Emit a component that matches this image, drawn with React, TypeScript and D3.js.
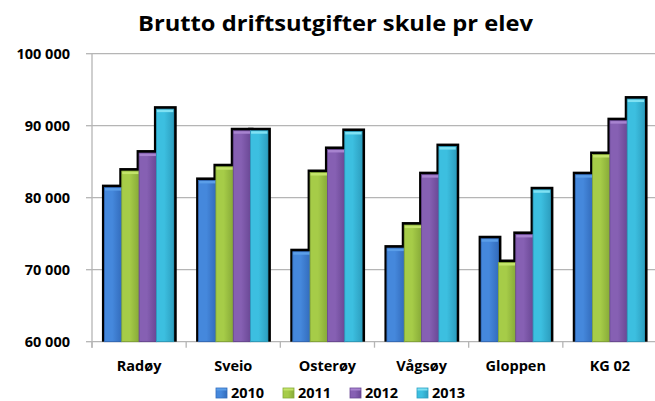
import React from "react";
import * as d3 from "d3";

const categories = ["Radøy", "Sveio", "Osterøy", "Vågsøy", "Gloppen", "KG 02"];
const years = ["2010", "2011", "2012", "2013"];
const values2010 = [81400, 82400, 72500, 73000, 74300, 83200];
const values2011 = [83700, 84300, 83500, 76200, 71000, 86000];
const values2012 = [86200, 89300, 86700, 83200, 74900, 90700];
const values2013 = [92300, 89300, 89200, 87100, 81100, 93700];
const yTicks = [60000, 70000, 80000, 90000, 100000];
const seriesValues = [values2010, values2011, values2012, values2013];

const colors = [
  { top: "#5b9ee8", light: "#4588dc", dark: "#336cbc" },
  { top: "#c3e36a", light: "#a6cc48", dark: "#87aa38" },
  { top: "#a783cf", light: "#8660b3", dark: "#6a4895" },
  { top: "#7fe1f3", light: "#3cbfe0", dark: "#2d9fc0" },
];

const W = 655;
const H = 401;
const FONT = "'Open Sans', Lato, sans-serif";

export default function App() {
  const left = 92;
  const right = 657;
  const y = d3.scaleLinear().domain([60000, 100000]).range([341.7, 53.7]);
  const x0 = d3
    .scaleBand<string>()
    .domain(categories)
    .range([left, right])
    .paddingInner(0.264)
    .paddingOuter(0.132);
  const x1 = d3.scaleBand<string>().domain(years).range([0, x0.bandwidth()]);
  const fmt = (v: number) => d3.format(",")(v).replace(/,/g, " ");
  const step = x0.step();
  const boundaries = d3.range(categories.length + 1).map((i) => left + i * step);

  const bars: { key: string; x: number; y: number; w: number; h: number; s: number }[] = [];
  categories.forEach((c, ci) => {
    years.forEach((yr, si) => {
      const v = seriesValues[si][ci];
      const bx = (x0(c) as number) + (x1(yr) as number);
      const by = y(v);
      bars.push({ key: c + yr, x: bx, y: by, w: x1.bandwidth(), h: y(60000) - by, s: si });
    });
  });

  return (
    <svg
      width={W}
      height={H}
      style={{ position: "absolute", left: 0, top: 0, background: "#fff" }}
      fontFamily={FONT}
    >
      <defs>
        {colors.map((c, i) => (
          <linearGradient key={i} id={"g" + i} x1="0" y1="0" x2="1" y2="0">
            <stop offset="0" stopColor={c.light} />
            <stop offset="0.45" stopColor={c.light} />
            <stop offset="1" stopColor={c.dark} />
          </linearGradient>
        ))}
      </defs>
      <rect x={0} y={0} width={W} height={H} fill="#fff" />
      <text
        x={138}
        y={31}
        fontSize={21}
        fontWeight="bold"
        fill="#000"
        textLength={395}
        lengthAdjust="spacingAndGlyphs"
      >
        Brutto driftsutgifter skule pr elev
      </text>
      {yTicks.map((t) => (
        <g key={t}>
          <line x1={left} x2={W} y1={y(t)} y2={y(t)} stroke="#b5b5b5" strokeWidth={1.3} />
          <line x1={86} x2={left} y1={y(t)} y2={y(t)} stroke="#b5b5b5" strokeWidth={1.3} />
          <text
            x={70}
            y={y(t)}
            dy="0.36em"
            textAnchor="end"
            fontSize={14.5}
            fontWeight="bold"
            fill="#000"
          >
            {fmt(t)}
          </text>
        </g>
      ))}
      <line x1={left} x2={left} y1={y(100000)} y2={y(60000) + 6} stroke="#b5b5b5" strokeWidth={1.3} />
      {boundaries.map((bx, i) => (
        <line key={i} x1={bx} x2={bx} y1={y(60000)} y2={y(60000) + 6} stroke="#b5b5b5" strokeWidth={1.3} />
      ))}
      {bars.map((b) => (
        <rect key={"s" + b.key} x={b.x - 2.5} y={b.y - 3} width={b.w + 5.5} height={b.h + 3} fill="#000" />
      ))}
      {bars.map((b) => (
        <g key={b.key}>
          <rect
            x={b.x}
            y={b.y}
            width={b.w}
            height={b.h}
            fill={`url(#g${b.s})`}
            stroke={colors[b.s].dark}
            strokeWidth={0.8}
          />
          <rect x={b.x + 0.5} y={b.y + 0.5} width={b.w - 1} height={2.5} fill={colors[b.s].top} />
        </g>
      ))}
      {categories.map((c) => (
        <text
          key={c}
          x={(x0(c) as number) + x0.bandwidth() / 2}
          y={371}
          textAnchor="middle"
          fontSize={14.5}
          fontWeight="bold"
          fill="#000"
        >
          {c}
        </text>
      ))}
      {years.map((yr, i) => {
        const lx = 216 + i * 67;
        return (
          <g key={yr}>
            <rect x={lx} y={388} width={11} height={10} fill={`url(#g${i})`} stroke={colors[i].dark} strokeWidth={0.8} />
            <rect x={lx + 0.5} y={388.5} width={10} height={2} fill={colors[i].top} />
            <text x={lx + 15} y={398} fontSize={14.5} fontWeight="bold" fill="#000">
              {yr}
            </text>
          </g>
        );
      })}
    </svg>
  );
}
